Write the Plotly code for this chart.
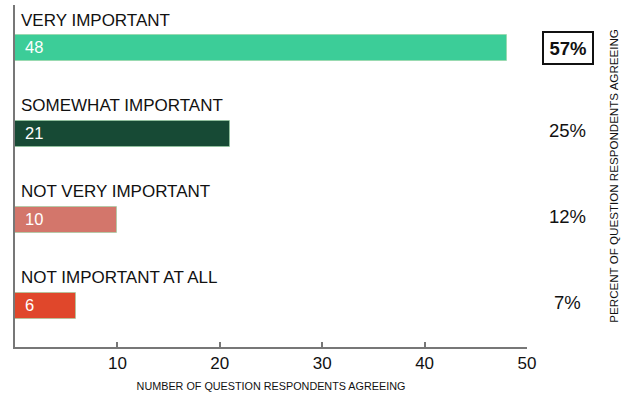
import plotly.graph_objects as go

# Survey responses: how important respondents rated the question
categories = ["VERY IMPORTANT", "SOMEWHAT IMPORTANT", "NOT VERY IMPORTANT", "NOT IMPORTANT AT ALL"]
counts = [48, 21, 10, 6]
percents = ["57%", "25%", "12%", "7%"]
bar_colors = ["#3CCD98", "#174A35", "#D3766B", "#E0472B"]
x_ticks = [10, 20, 30, 40, 50]

FONT = "Liberation Sans, Arial, Helvetica, sans-serif"
positions = list(range(len(categories)))

fig = go.Figure()
fig.add_trace(go.Bar(
    x=counts,
    y=positions,
    orientation="h",
    width=0.3,
    marker=dict(color=bar_colors, line=dict(color="rgba(150,210,160,0.6)", width=1)),
    hoverinfo="skip",
    showlegend=False,
))

annotations = []
for p, cat, val, pct in zip(positions, categories, counts, percents):
    # category name above the bar
    annotations.append(dict(
        x=0, y=p, xref="x", yref="y", text=cat, showarrow=False,
        xanchor="left", yanchor="middle", xshift=4, yshift=28,
        font=dict(family=FONT, size=17, color="#111"),
    ))
    # count written inside the bar
    annotations.append(dict(
        x=0, y=p, xref="x", yref="y", text=str(val), showarrow=False,
        xanchor="left", yanchor="middle", xshift=8, yshift=1,
        font=dict(family=FONT, size=16.5, color="white"),
    ))
    # share of respondents on the right
    first = p == 0
    ann = dict(
        x=1.08, y=p, xref="paper", yref="y",
        text=f"<b>{pct}</b>" if first else pct, showarrow=False,
        xanchor="center", yanchor="middle", yshift=0 if first else 3,
        font=dict(family=FONT, size=18.5, color="#111"),
    )
    if first:
        ann.update(width=44, height=26, borderpad=2, bordercolor="#111", borderwidth=2)
    annotations.append(ann)

annotations.append(dict(
    x=1.17, y=0.501, xref="paper", yref="paper",
    text="PERCENT OF QUESTION RESPONDENTS AGREEING",
    textangle=-90, showarrow=False, xanchor="center", yanchor="middle",
    font=dict(family=FONT, size=11.6, color="#111"),
))

fig.update_layout(
    width=631, height=398,
    margin=dict(l=15, r=104, t=5, b=51),
    paper_bgcolor="white", plot_bgcolor="white",
    annotations=annotations,
    bargap=0,
)
fig.update_xaxes(
    range=[0, 50], tickvals=x_ticks, ticks="inside", ticklen=5, tickwidth=2,
    tickcolor="#777", showline=True, linecolor="#777", linewidth=2,
    showgrid=False, zeroline=False,
    tickfont=dict(family=FONT, size=17, color="#111"),
    title=dict(text="NUMBER OF QUESTION RESPONDENTS AGREEING", standoff=10,
               font=dict(family=FONT, size=10.8, color="#111")),
)
fig.update_yaxes(
    range=[3.477, -0.5], showticklabels=False, ticks="", showline=True,
    linecolor="#777", linewidth=2, showgrid=False, zeroline=False,
)

fig.write_html("out.html")
